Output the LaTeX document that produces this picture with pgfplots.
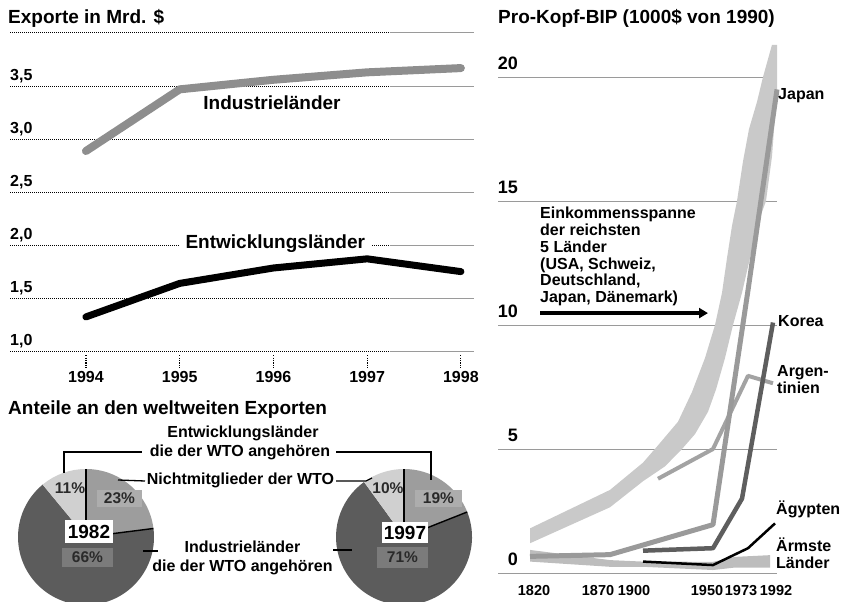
\documentclass[border=0pt]{standalone}
\usepackage{fontspec}
\setmainfont{Liberation Sans}
\usepackage{pgfplots}
\pgfplotsset{compat=1.18}
\usetikzlibrary{arrows.meta}
\definecolor{indline}{HTML}{8E8E8E}
\definecolor{gridsolid}{HTML}{9A9A9A}
\definecolor{pieDark}{HTML}{5C5C5C}
\definecolor{pieMid}{HTML}{9D9D9D}
\definecolor{pieLight}{HTML}{D0D0D0}
\definecolor{boxDark}{HTML}{7B7B7B}
\definecolor{boxMid}{HTML}{ADADAD}
\definecolor{txtgray}{HTML}{2A2A2A}
\definecolor{bandgray}{HTML}{C9C9C9}
\definecolor{japgray}{HTML}{9A9A9A}
\definecolor{korgray}{HTML}{5E5E5E}
\definecolor{arggray}{HTML}{A3A3A3}
\definecolor{poorgray}{HTML}{BDBDBD}
\newcommand\fs[1]{\bfseries\fontsize{#1}{#1}\selectfont}
\newcommand\fsl[2]{\bfseries\fontsize{#1}{#2}\selectfont}

\begin{document}
\begin{tikzpicture}[x=1pt,y=1pt]
\useasboundingbox (0,0) rectangle (843,602);

%%%%%%%%%%%%%%%% Top-left: Exporte in Mrd. $
\node[anchor=base west, inner sep=0, font=\fs{19}] at (8,578.5) {Exporte in Mrd. \$};
\begin{axis}[
  at={(10pt,250pt)}, anchor=south west, scale only axis,
  width=464pt, height=319pt,
  xmin=1993.19, xmax=1998.14, ymin=1, ymax=4,
  clip=false, axis line style={draw=none},
  xtick={1994,1995,1996,1997,1998},
  xticklabels={1994,1995,1996,1997,1998},
  ytick={1,1.5,2,2.5,3,3.5},
  yticklabels={{1,0},{1,5},{2,0},{2,5},{3,0},{3,5}},
  major tick length=0pt, tick style={draw=none},
  xticklabel style={font=\fs{16}, anchor=north, inner sep=0pt, yshift=-19pt},
  yticklabel style={font=\fs{16}, anchor=base west, inner sep=0pt, yshift=6pt},
]
\pgfplotsinvokeforeach{1,1.5,2,2.5,3,3.5,4}{
  \draw[black, line width=1pt, dash pattern=on 1pt off 1pt] (axis cs:1993.19,#1) -- (axis cs:1997.24,#1);
  \draw[gridsolid, line width=1pt] (axis cs:1997.24,#1) -- (axis cs:1998.14,#1);
}
\pgfplotsinvokeforeach{1994,1995,1996,1997,1998}{
  \draw[black, line width=1.2pt, dash pattern=on 1.2pt off 1.2pt] (axis cs:#1,0.97) -- (axis cs:#1,0.85);
}
% Industrielaender
\addplot[indline, line width=8pt, line cap=round, line join=round]
  coordinates {(1994,2.89) (1995,3.47) (1996,3.56) (1997,3.63) (1998,3.67)};
% Entwicklungslaender
\addplot[black, line width=7pt, line cap=round, line join=round]
  coordinates {(1994,1.33) (1995,1.645) (1996,1.79) (1997,1.876) (1998,1.756)};
\node[font=\fs{19}, anchor=base, inner sep=0pt] at (axis cs:1995.985,3.276) {Industrieländer};
\node[font=\fs{19}, anchor=base, fill=white, inner xsep=6pt, inner ysep=1pt] at (axis cs:1996.02,1.975) {Entwicklungsländer};
\end{axis}

%%%%%%%%%%%%%%%% Bottom-left: pies
\node[anchor=base west, inner sep=0, font=\fs{19}] at (8,187) {Anteile an den weltweiten Exporten};

% 1982 pie: 23% / 66% / 11%
\begin{axis}[at={(86pt,65pt)}, anchor=center, scale only axis, width=136pt, height=136pt,
  xmin=-1, xmax=1, ymin=-1, ymax=1, hide axis, clip=false]
\fill[pieMid]   (axis cs:0,0) -- ++(90:68pt)  arc[start angle=90,  end angle={90-23*3.6}, radius=68pt] -- cycle;
\fill[pieDark]  (axis cs:0,0) -- ++({90-23*3.6}:68pt) arc[start angle={90-23*3.6}, end angle={90-89*3.6}, radius=68pt] -- cycle;
\fill[pieLight] (axis cs:0,0) -- ++({90-89*3.6}:68pt) arc[start angle={90-89*3.6}, end angle={90-100*3.6}, radius=68pt] -- cycle;
\draw[black, line width=1.4pt] (axis cs:0,0) -- ++(90:68pt);
\draw[black, line width=1.4pt] (axis cs:0,0) -- ++({90-23*3.6}:68pt);
\end{axis}

% 1997 pie: 19% / 71% / 10%
\begin{axis}[at={(404pt,65pt)}, anchor=center, scale only axis, width=136pt, height=136pt,
  xmin=-1, xmax=1, ymin=-1, ymax=1, hide axis, clip=false]
\fill[pieMid]   (axis cs:0,0) -- ++(90:68pt)  arc[start angle=90,  end angle={90-19*3.6}, radius=68pt] -- cycle;
\fill[pieDark]  (axis cs:0,0) -- ++({90-19*3.6}:68pt) arc[start angle={90-19*3.6}, end angle={90-90*3.6}, radius=68pt] -- cycle;
\fill[pieLight] (axis cs:0,0) -- ++({90-90*3.6}:68pt) arc[start angle={90-90*3.6}, end angle={90-100*3.6}, radius=68pt] -- cycle;
\draw[black, line width=1.4pt] (axis cs:0,0) -- ++(90:68pt);
\draw[black, line width=1.4pt] (axis cs:0,0) -- ++({90-19*3.6}:68pt);
\end{axis}

% pie label boxes
\fill[white] (65,59) rectangle (113,82);
\node[font=\fs{19}, inner sep=0] at (89,70.5) {1982};
\fill[boxMid] (97,95) rectangle (142,112);
\node[font=\fs{15.5}, text=txtgray, inner sep=0] at (119.5,103.5) {23\%};
\fill[boxDark] (62,35) rectangle (113,54);
\node[font=\fs{15.5}, text=txtgray, inner sep=0] at (87.5,44.5) {66\%};
\node[font=\fs{15.5}, text=txtgray, inner sep=0] at (70,114) {11\%};

\fill[white] (382,59) rectangle (428,80);
\node[font=\fs{19}, inner sep=0] at (405,69.5) {1997};
\fill[boxMid] (415,95) rectangle (462,112);
\node[font=\fs{15.5}, text=txtgray, inner sep=0] at (438.5,103.5) {19\%};
\fill[boxDark] (377,34) rectangle (428,55);
\node[font=\fs{15.5}, text=txtgray, inner sep=0] at (402.5,44.5) {71\%};
\node[font=\fs{15.5}, text=txtgray, inner sep=0] at (388,114) {10\%};

% pie legend texts and leader lines
\node[font=\fs{16}, anchor=base, inner sep=0] at (243,164) {Entwicklungsländer};
\node[font=\fs{16}, anchor=base, inner sep=0] at (240,145.3) {die der WTO angehören};
\node[font=\fs{16}, anchor=base, inner sep=0] at (240.5,117) {Nichtmitglieder der WTO};
\node[font=\fs{16}, anchor=base, inner sep=0] at (242.5,49) {Industrieländer};
\node[font=\fs{16}, anchor=base, inner sep=0] at (242.5,30.3) {die der WTO angehören};
\draw[black, line width=1.3pt] (64,129) -- (64,150) -- (142,150);
\draw[black, line width=1.3pt] (336,150) -- (431,150) -- (431,122);
\draw[black, line width=1.3pt] (118,122) -- (145,121);
\draw[black, line width=1.3pt] (336,121) -- (366,121) -- (372,124);
\draw[black, line width=1.3pt] (143,51) -- (158,51);
\draw[black, line width=1.3pt] (333,52) -- (352,52);

%%%%%%%%%%%%%%%% Right: Pro-Kopf-BIP
% x values are positions (pt) on the printed, non-linear time axis:
% 1820=530, 1870=610, 1900=643, 1913=658, 1950=713, 1973=746, 1992=775
\node[anchor=base west, inner sep=0, font=\fs{19}] at (498,578.5) {Pro-Kopf-BIP (1000\$ von 1990)};
\begin{axis}[
  at={(498pt,29pt)}, anchor=south west, scale only axis,
  width=279pt, height=496pt,
  xmin=498, xmax=777, ymin=0, ymax=20,
  clip=false, axis line style={draw=none},
  ytick={0,5,10,15,20}, yticklabels={0,5,10,15,20},
  ymajorgrids, grid style={color=gridsolid, line width=0.9pt},
  xtick={534,598,634,707,741,776},
  xticklabels={1820,1870,1900,1950,1973,1992},
  major tick length=0pt, tick style={draw=none},
  xticklabel style={font=\fs{14.5}, anchor=north, inner sep=0pt, yshift=-12pt},
  yticklabel style={font=\fs{18}, anchor=base east, inner sep=0pt, xshift=20pt, yshift=7pt},
]
% income range of the five richest countries (upper edge, then lower edge back)
\addplot[fill=bandgray, draw=none] coordinates {
  (530,1.8) (610,3.35) (643,4.45) (657,5.1) (678,6.1) (692,7.3) (705,8.67)
  (715,10.0) (722,11.3) (727,12.7) (732,14.0) (737,15.0) (743,16.6) (749,17.9)
  (757,19.0) (763,20.0) (772,21.3) (777,21.3)
  (777,19.5) (772,16.8) (766,15.0) (757,14.0) (750,12.7) (742,11.3) (733,10.0)
  (725,8.67) (716,7.4) (708,6.5) (695,5.6) (682,5.0) (665,4.3) (643,3.7) (610,2.65) (530,1.2)
} -- cycle;
% poorest countries (band)
\addplot[fill=poorgray, draw=none] coordinates {
  (530,0.93) (610,0.52) (643,0.46) (713,0.45) (735,0.65) (770,0.72)
  (770,0.22) (735,0.22) (713,0.12) (643,0.25) (610,0.25) (530,0.46)
} -- cycle;
% Argentina
\addplot[arggray, line width=4pt, line join=round] coordinates {(658,3.8) (713,5.0) (748,7.95) (773,7.65)};
% Japan
\addplot[japgray, line width=5pt, line join=round] coordinates {(530,0.67) (610,0.74) (713,1.95) (748,11.4) (777,19.5)};
% Korea
\addplot[korgray, line width=4.5pt, line join=round] coordinates {(643,0.9) (713,1.0) (742,3.0) (773,10.1)};
% Egypt
\addplot[black, line width=2.5pt, line join=round] coordinates {(643,0.46) (713,0.32) (748,1.0) (775,2.0)};
% arrow
\draw[black, line width=3.5pt, -{Triangle[length=9pt, width=10pt]}] (axis cs:540,10.48) -- (axis cs:708,10.48);
\end{axis}

\node[anchor=north west, align=left, inner sep=0, font=\fsl{16}{16.8}] at (540,395)
  {Einkommensspanne\\der reichsten\\5 Länder\\(USA, Schweiz,\\Deutschland,\\Japan, Dänemark)};
\node[anchor=base west, inner sep=0, font=\fs{16}] at (778,502) {Japan};
\node[anchor=base west, inner sep=0, font=\fs{16}] at (778,275) {Korea};
\node[anchor=base west, inner sep=0, font=\fs{16}] at (777,225) {Argen-};
\node[anchor=base west, inner sep=0, font=\fs{16}] at (777,208) {tinien};
\node[anchor=base west, inner sep=0, font=\fs{16}] at (776,87) {Ägypten};
\node[anchor=base west, inner sep=0, font=\fs{16}] at (776,50) {Ärmste};
\node[anchor=base west, inner sep=0, font=\fs{16}] at (776,33) {Länder};
\end{tikzpicture}
\end{document}
